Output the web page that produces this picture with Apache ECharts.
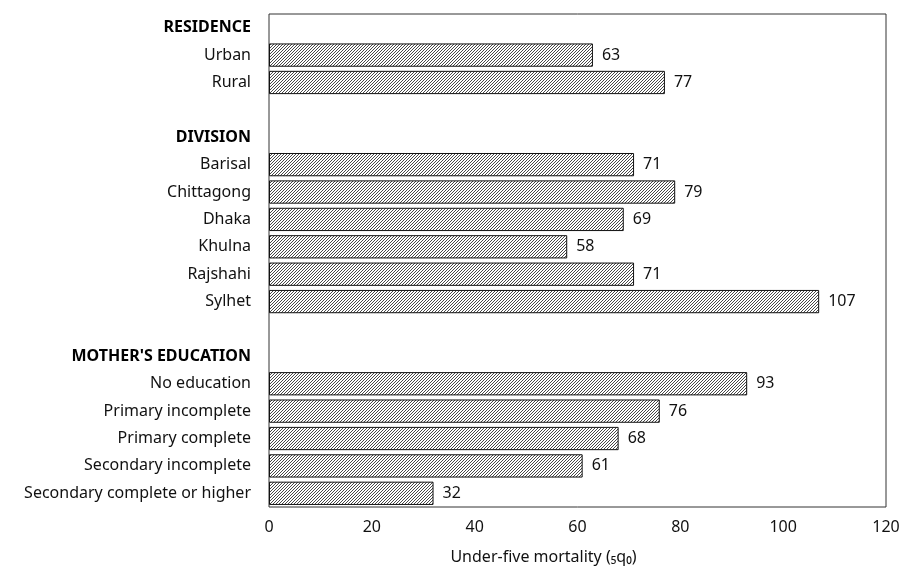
<!DOCTYPE html>
<html>
<head>
<meta charset="utf-8">
<script src="https://cdn.jsdelivr.net/npm/echarts@6/dist/echarts.min.js"></script>
<style>
  html, body { margin: 0; padding: 0; background: #fff; }
  #chart { width: 904px; height: 570px; }
</style>
</head>
<body>
<div id="chart"></div>
<script>
// rows top to bottom; headers and gaps have no value
var categories = ['RESIDENCE', 'Urban', 'Rural', 'gap1',
  'DIVISION', 'Barisal', 'Chittagong', 'Dhaka', 'Khulna', 'Rajshahi', 'Sylhet', 'gap2',
  "MOTHER'S EDUCATION", 'No education', 'Primary incomplete', 'Primary complete',
  'Secondary incomplete', 'Secondary complete or higher'];
var headers = ['RESIDENCE', 'DIVISION', "MOTHER'S EDUCATION"];
var mortality = [null, 63, 77, null,
  null, 71, 79, 69, 58, 71, 107, null,
  null, 93, 76, 68, 61, 32];
var xTicks = [0, 20, 40, 60, 80, 100, 120];

// fine diagonal hatch
function hatch () {
  var c = document.createElement('canvas');
  c.width = 3; c.height = 3;
  var ctx = c.getContext('2d');
  ctx.fillStyle = '#fff';
  ctx.fillRect(0, 0, 3, 3);
  ctx.strokeStyle = '#333';
  ctx.lineWidth = 0.9;
  ctx.beginPath();
  ctx.moveTo(-1, 4); ctx.lineTo(4, -1);
  ctx.moveTo(-1, 1); ctx.lineTo(1, -1);
  ctx.moveTo(2, 4); ctx.lineTo(4, 2);
  ctx.stroke();
  return c;
}

var font = '"Noto Sans", sans-serif';
var chart = echarts.init(document.getElementById('chart'));
chart.setOption({
  animation: false,
  textStyle: { fontFamily: font },
  grid: {
    left: 269, top: 14, right: 18, bottom: 61,
    show: true, borderColor: '#333', borderWidth: 1
  },
  xAxis: {
    type: 'value',
    min: xTicks[0], max: xTicks[xTicks.length - 1], interval: 20,
    axisLine: { show: false },
    axisTick: { show: false },
    splitLine: { show: false },
    axisLabel: { color: '#111', fontSize: 16, margin: 12 },
    name: 'Under-five mortality (\u2085q\u2080)',
    nameLocation: 'middle',
    nameGap: 42,
    nameTextStyle: { color: '#111', fontSize: 16, padding: [0, 68, 0, 0] }
  },
  yAxis: {
    type: 'category',
    inverse: true,
    data: categories,
    axisLine: { show: false },
    axisTick: { show: false },
    axisLabel: {
      margin: 18,
      fontSize: 16,
      color: '#111',
      formatter: function (v) {
        if (v.indexOf('gap') === 0) return '';
        if (headers.indexOf(v) >= 0) return '{h|' + v + '}';
        return v;
      },
      rich: { h: { fontWeight: 'bold', fontSize: 16, color: '#000' } }
    }
  },
  series: [{
    type: 'bar',
    data: mortality,
    barCategoryGap: '15%',
    itemStyle: {
      color: { image: hatch(), repeat: 'repeat' },
      borderColor: '#111',
      borderWidth: 1
    },
    label: {
      show: true,
      position: 'right',
      distance: 9,
      fontSize: 16,
      color: '#111'
    }
  }]
});
</script>
</body>
</html>
